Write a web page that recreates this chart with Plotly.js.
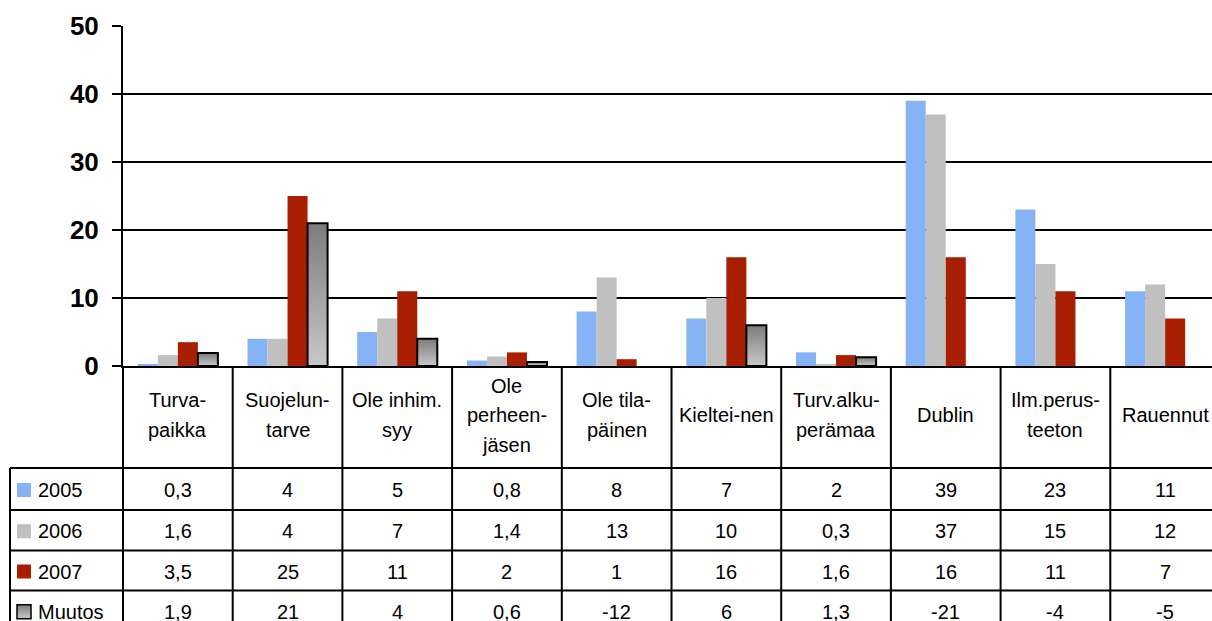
<!DOCTYPE html>
<html><head><meta charset="utf-8">
<script src="https://cdn.plot.ly/plotly-3.0.1.min.js"></script>
<style>html,body{margin:0;padding:0;overflow:hidden;background:#fff}#chart{width:1240px;height:621px}</style>
</head><body><div id="chart"></div>
<script>
// ---- data ----
const categories = ["Turvapaikka","Suojeluntarve","Ole inhim. syy","Ole perheenjäsen","Ole tilapäinen","Kieltei-nen","Turv.alkuperämaa","Dublin","Ilm.perusteeton","Rauennut"];
const categoryLabelLines = [["Turva-","paikka"],["Suojelun-","tarve"],["Ole inhim.","syy"],["Ole","perheen-","jäsen"],["Ole tila-","päinen"],["Kieltei-nen"],["Turv.alku-","perämaa"],["Dublin"],["Ilm.perus-","teeton"],["Rauennut"]];
const seriesNames = ["2005","2006","2007","Muutos"];
const values2005 = [0.3,4,5,0.8,8,7,2,39,23,11];
const values2006 = [1.6,4,7,1.4,13,10,0.3,37,15,12];
const values2007 = [3.5,25,11,2,1,16,1.6,16,11,7];
const valuesMuutos = [1.9,21,4,0.6,-12,6,1.3,-21,-4,-5];
const yTicks = [0,10,20,30,40,50];

// ---- style ----
const seriesValues = [values2005, values2006, values2007, valuesMuutos];
const seriesColors = ["#86b2f6", "#c0c0c0", "#a81e00", "#a1a1a1"];
const FONT = "Arial, 'Liberation Sans', sans-serif";
const W = 1240, H = 621, ML = 123, MT = 26, PW = 1097, PH = 340;
const px2x = px => (px - ML) / PW;
const py2y = py => (MT + PH - py) / PH;
const fmt = v => String(v).replace('.', ',');

const traces = seriesNames.map((name, k) => ({
  type: 'bar', name: name, x: categories, y: seriesValues[k],
  marker: {color: seriesColors[k], line: {width: k === 3 ? seriesValues[k].map(v => v > 0 ? 2 : 0) : 0, color: '#000'}},
  hoverinfo: 'skip'
}));

const shapes = [];
const annotations = [];
const lineStyle = {color: '#000', width: 2};
const rowLines = [468, 510, 550.5, 590.5, 631];
const n = categories.length;
// vertical table lines
for (let i = 0; i <= n; i++) {
  shapes.push({type: 'line', xref: 'paper', yref: 'paper', x0: i / n, x1: i / n, y0: py2y(366), y1: py2y(660), line: lineStyle});
}
shapes.push({type: 'line', xref: 'paper', yref: 'paper', x0: px2x(10), x1: px2x(10), y0: py2y(468), y1: py2y(660), line: lineStyle});
rowLines.forEach(py => shapes.push({type: 'line', xref: 'paper', yref: 'paper', x0: px2x(10), x1: 1, y0: py2y(py), y1: py2y(py), line: lineStyle}));

// header labels
categoryLabelLines.forEach((lines, i) => {
  lines.forEach((t, j) => {
    const py = 415 + (j - (lines.length - 1) / 2) * 29.5;
    annotations.push({xref: 'paper', yref: 'paper', x: (i + 0.5) / n, y: py2y(py), text: t, showarrow: false,
      xanchor: 'center', yanchor: 'middle', font: {family: FONT, size: 20, color: '#000'}});
  });
});
// table rows
seriesNames.forEach((name, k) => {
  const cy = (rowLines[k] + rowLines[k + 1]) / 2 + 1;
  shapes.push({type: 'rect', xref: 'paper', yref: 'paper', x0: px2x(17), x1: px2x(31), y0: py2y(cy - 7), y1: py2y(cy + 7),
    fillcolor: seriesColors[k], line: {width: k === 3 ? 1.5 : 0, color: '#000'}});
  annotations.push({xref: 'paper', yref: 'paper', x: px2x(36), y: py2y(cy), text: name, showarrow: false,
    xanchor: 'left', yanchor: 'middle', font: {family: FONT, size: 20, color: '#000'}});
  seriesValues[k].forEach((v, i) => {
    annotations.push({xref: 'paper', yref: 'paper', x: (i + 0.5) / n, y: py2y(cy), text: fmt(v), showarrow: false,
      xanchor: 'center', yanchor: 'middle', font: {family: FONT, size: 20, color: '#000'}});
  });
});

const layout = {
  width: W, height: H,
  margin: {l: ML, t: MT, r: W - ML - PW, b: H - MT - PH, pad: 0},
  paper_bgcolor: '#fff', plot_bgcolor: '#fff',
  barmode: 'group', bargap: 0.27, bargroupgap: 0,
  showlegend: false,
  xaxis: {type: 'category', range: [-0.5, n - 0.5], showline: true, linecolor: '#000', linewidth: 2,
    showticklabels: false, ticks: '', showgrid: false, zeroline: false, fixedrange: true},
  yaxis: {range: [0, 50], tickvals: yTicks, ticktext: yTicks.map(String), ticks: 'outside', ticklen: 9, tickwidth: 2, tickcolor: '#000',
    showline: true, linecolor: '#000', linewidth: 2, showgrid: true, gridcolor: '#000', gridwidth: 2, zeroline: false,
    tickfont: {family: FONT, size: 26, color: '#000', weight: 'bold'}, ticklabelstandoff: 8, fixedrange: true},
  shapes: shapes, annotations: annotations,
  font: {family: FONT, color: '#000'}
};

Plotly.newPlot('chart', traces, layout, {staticPlot: true, displayModeBar: false}).then(() => {
  const svg = document.querySelector('#chart .main-svg');
  const ns = 'http://www.w3.org/2000/svg';
  let defs = svg.querySelector('defs');
  const g = document.createElementNS(ns, 'linearGradient');
  g.setAttribute('id', 'muutosGrad'); g.setAttribute('x1', '0'); g.setAttribute('y1', '0'); g.setAttribute('x2', '0'); g.setAttribute('y2', '1');
  [['0', '#7c7c7c'], ['1', '#c8c8c8']].forEach(([o, c]) => {
    const s = document.createElementNS(ns, 'stop'); s.setAttribute('offset', o); s.setAttribute('stop-color', c); g.appendChild(s);
  });
  defs.appendChild(g);
  const barTraces = document.querySelectorAll('#chart .barlayer .trace');
  if (barTraces[3]) barTraces[3].querySelectorAll('path').forEach(p => { p.style.fill = 'url(#muutosGrad)'; });
  document.querySelectorAll('#chart .shapelayer path').forEach(p => {
    if (p.style.fill === 'rgb(161, 161, 161)') p.style.fill = 'url(#muutosGrad)';
  });
});
</script></body></html>
